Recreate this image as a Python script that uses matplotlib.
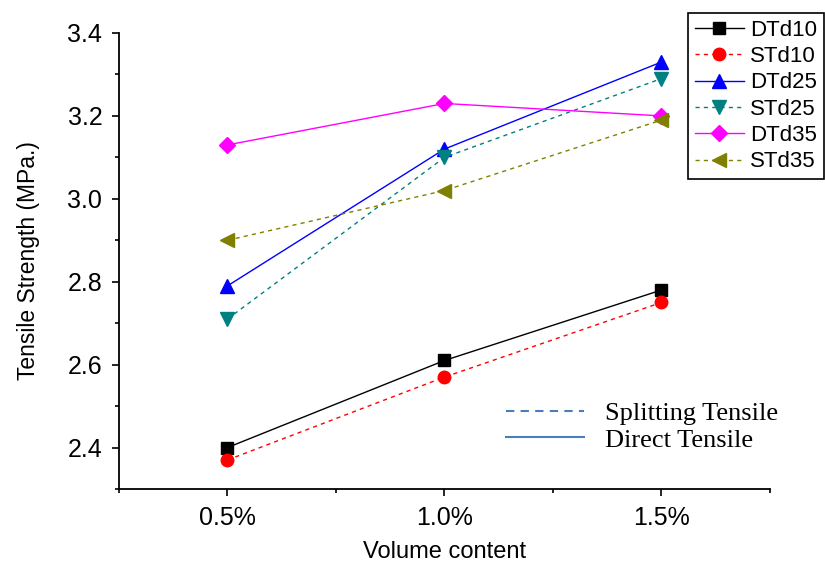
import numpy as np
from matplotlib import pyplot as plt
from matplotlib.lines import Line2D

plt.rcParams['font.family'] = ['Liberation Sans', 'DejaVu Sans']

# volume content (%) and tensile strength (MPa)
volume = [0.5, 1.0, 1.5]
tick_labels = ['0.5%', '1.0%', '1.5%']

DTd10 = [2.40, 2.61, 2.78]
STd10 = [2.37, 2.57, 2.75]
DTd25 = [2.79, 3.12, 3.33]
STd25 = [2.71, 3.10, 3.29]
DTd35 = [3.13, 3.23, 3.20]
STd35 = [2.90, 3.02, 3.19]

series = [
    ('DTd10', DTd10, 'black',   '-',         's', 8),
    ('STd10', STd10, 'red',     (0, (3, 3)), 'o', 9),
    ('DTd25', DTd25, 'blue',    '-',         '^', 10),
    ('STd25', STd25, '#008080', (0, (3, 3)), 'v', 10),
    ('DTd35', DTd35, 'magenta', '-',         'D', 8),
    ('STd35', STd35, '#808000', (0, (3, 3)), '<', 10),
]

fig = plt.figure(figsize=(8.25, 5.65), dpi=100)
ax = fig.add_axes([0.1442, 0.1345, 0.7891, 0.8071])

for name, vals, col, ls, mk, ms in series:
    ax.plot(volume, vals, color=col, ls=ls, lw=1.0, marker=mk, ms=ms,
            mfc=col, mec=col, label=name)

ax.set_xlim(0.25, 1.75)
ax.set_ylim(2.3, 3.4)
ax.set_xticks(volume)
ax.set_xticklabels(tick_labels)
ax.xaxis.set_minor_locator(plt.FixedLocator([0.25, 0.75, 1.25, 1.75]))
ax.set_yticks([2.4, 2.6, 2.8, 3.0, 3.2, 3.4])
ax.yaxis.set_minor_locator(plt.FixedLocator([2.3, 2.5, 2.7, 2.9, 3.1, 3.3]))

for s in ['top', 'right']:
    ax.spines[s].set_visible(False)
for s in ['left', 'bottom']:
    ax.spines[s].set_linewidth(1.3)

ax.tick_params(which='major', direction='out', length=5, width=1.2,
               labelsize=18, pad=7)
ax.tick_params(which='minor', direction='out', length=3, width=1.2)

ax.set_xlabel('Volume content', fontsize=17, labelpad=8)
ax.set_ylabel('Tensile Strength (MPa.)', fontsize=16.5, labelpad=20)

leg = fig.legend(loc='upper left', bbox_to_anchor=(0.834, 0.977), fontsize=16,
                 handlelength=2.2, handletextpad=0.3, labelspacing=0.24,
                 borderpad=0.3, borderaxespad=0, fancybox=False,
                 edgecolor='black', framealpha=1)
leg.get_frame().set_linewidth(1.2)

# line style key
key_col = '#4a7ebb'
key = [Line2D([], [], color=key_col, ls=(0, (4, 3)), lw=1.5),
       Line2D([], [], color=key_col, ls='-', lw=1.5)]
leg2 = ax.legend(key, ['Splitting Tensile', 'Direct Tensile'], loc='upper left',
                 bbox_to_anchor=(0.558, 0.243), frameon=False,
                 prop={'family': 'Liberation Serif', 'size': 19},
                 handlelength=2.95, handletextpad=0.8, labelspacing=0.1)

fig.savefig('out.png', dpi=100)
